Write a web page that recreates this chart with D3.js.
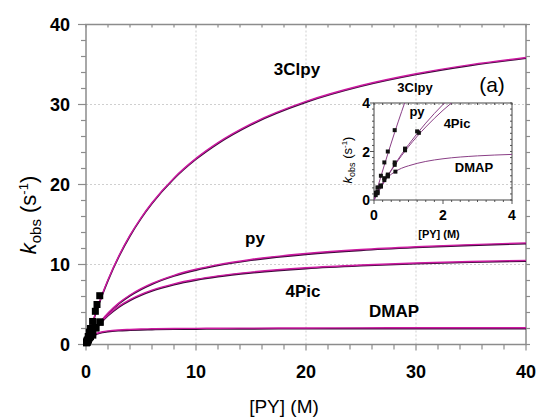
<html>
<script src='https://d3js.org/d3.v7.min.js'></script>
<style>
body { margin: 0; background: #fff; }
text { font-family: Arial, "Liberation Sans", sans-serif; }
</style>
<body>
<svg width=538 height=420></svg>

<script>
// fitted curves
var fitX     = [0, 0.1, 0.2, 0.4, 0.6, 0.8, 1, 1.5, 2, 3, 4, 5, 6, 8, 10, 12, 15, 20, 25, 30, 35, 40];
var fit3Clpy = [0, 0.49, 0.97, 1.90, 2.79, 3.64, 4.46, 6.36, 8.09, 11.11, 13.66, 15.84, 17.72, 20.82, 23.26, 25.23, 27.57, 30.38, 32.37, 33.84, 34.98, 35.88];
var fitPy    = [0, 0.27, 0.52, 1.01, 1.46, 1.89, 2.28, 3.17, 3.94, 5.20, 6.19, 6.98, 7.64, 8.65, 9.40, 9.98, 10.63, 11.37, 11.87, 12.22, 12.49, 12.70];
var fit4Pic  = [0, 0.26, 0.52, 0.99, 1.43, 1.83, 2.20, 3.01, 3.70, 4.79, 5.61, 6.26, 6.79, 7.58, 8.15, 8.58, 9.05, 9.59, 9.94, 10.19, 10.38, 10.52];
var fitDMAP  = [0, 0.35, 0.61, 0.94, 1.16, 1.31, 1.41, 1.59, 1.70, 1.82, 1.88, 1.93, 1.96, 2.00, 2.02, 2.04, 2.05, 2.07, 2.08, 2.09, 2.09, 2.09];

// measured points
var x3Clpy = [0.05, 0.1, 0.2, 0.3, 0.4, 0.6, 0.85, 1.0, 1.25];
var y3Clpy = [0.30, 0.52, 1.0, 1.55, 2.0, 2.88, 4.15, 5.0, 6.1];
var xPy    = [0.1, 0.2, 0.3, 0.4, 0.6, 0.9, 1.25];
var yPy    = [0.30, 0.58, 0.90, 1.05, 1.55, 2.12, 2.83];
var x4Pic  = [0.1, 0.2, 0.3, 0.4, 0.6, 0.9, 1.3];
var y4Pic  = [0.28, 0.55, 0.82, 1.0, 1.45, 2.05, 2.77];
var xDMAP  = [0.05, 0.1, 0.2, 0.4, 0.62];
var yDMAP  = [0.2, 0.35, 0.6, 0.97, 1.17];

var mainTicks  = [0, 10, 20, 30, 40];
var insetTicks = [0, 2, 4];

var fits = [fit3Clpy, fitPy, fit4Pic, fitDMAP];
var pts = [[x3Clpy, y3Clpy], [xPy, yPy], [x4Pic, y4Pic], [xDMAP, yDMAP]];

var svg = d3.select("svg");
var axisCol = "#8c8c8c";

function frame(g, x, y, w, h, col, sw) {
  g.append("rect").attr("x", x).attr("y", y).attr("width", w).attr("height", h)
    .attr("fill", "none").attr("stroke", col).attr("stroke-width", sw);
}

// ---------- main plot ----------
var x = d3.scaleLinear().domain([0, 40]).range([86, 526]);
var y = d3.scaleLinear().domain([0, 40]).range([344.5, 24.5]);

// grid
[10, 20, 30].forEach(function(v) {
  svg.append("line").attr("x1", x(v)).attr("x2", x(v)).attr("y1", y(0)).attr("y2", y(40))
    .attr("stroke", "#cfcfcf").attr("stroke-dasharray", "2,2");
  svg.append("line").attr("x1", x(0)).attr("x2", x(40)).attr("y1", y(v)).attr("y2", y(v))
    .attr("stroke", "#cfcfcf").attr("stroke-dasharray", "2,2");
});

// ticks
var minor = d3.range(0, 40.1, 2);
minor.forEach(function(v) {
  var big = v % 10 == 0;
  var len = big ? 8 : 5;
  // left (outward)
  svg.append("line").attr("x1", x(0) - len).attr("x2", x(0)).attr("y1", y(v)).attr("y2", y(v))
    .attr("stroke", axisCol).attr("stroke-width", 1.2);
  // right (outward)
  svg.append("line").attr("x1", x(40)).attr("x2", x(40) + 4).attr("y1", y(v)).attr("y2", y(v))
    .attr("stroke", axisCol).attr("stroke-width", 1.2);
  // bottom (outward)
  svg.append("line").attr("x1", x(v)).attr("x2", x(v)).attr("y1", y(0)).attr("y2", y(0) + (big ? 6 : 5))
    .attr("stroke", axisCol).attr("stroke-width", 1.2);
  // top (inward)
  svg.append("line").attr("x1", x(v)).attr("x2", x(v)).attr("y1", y(40)).attr("y2", y(40) + 3)
    .attr("stroke", axisCol).attr("stroke-width", 1.2);
});
frame(svg, x(0), y(40), x(40) - x(0), y(0) - y(40), axisCol, 1.5);

// tick labels
mainTicks.forEach(function(v) {
  svg.append("text").attr("x", 70).attr("y", y(v) + 6).attr("text-anchor", "end")
    .style("font-size", "18px").style("font-weight", "bold").text(v);
  svg.append("text").attr("x", x(v)).attr("y", 378).attr("text-anchor", "middle")
    .style("font-size", "18px").style("font-weight", "bold").text(v);
});

// axis titles
svg.append("text").attr("x", 284).attr("y", 413).attr("text-anchor", "middle")
  .style("font-size", "19px").text("[PY] (M)");

var yt = svg.append("text").attr("transform", "translate(36,215) rotate(-90)")
  .attr("text-anchor", "middle").style("font-size", "22px");
yt.append("tspan").style("font-style", "italic").text("k");
yt.append("tspan").attr("dy", 5).style("font-size", "15px").text("obs");
yt.append("tspan").attr("dy", -5).text(" (s");
yt.append("tspan").attr("dy", -8).style("font-size", "13px").text("-1");
yt.append("tspan").attr("dy", 8).text(")");

// curves
var mainLine = d3.line().x(function(d, i) { return x(fitX[i]); }).y(function(d) { return y(d); })
  .curve(d3.curveMonotoneX);
fits.forEach(function(f) {
  svg.append("path").attr("d", mainLine(f)).attr("fill", "none")
    .attr("stroke", "#3b0a3a").attr("stroke-width", 1.6).attr("transform", "translate(0,0.8)");
  svg.append("path").attr("d", mainLine(f)).attr("fill", "none")
    .attr("stroke", "#cc1aa0").attr("stroke-width", 1.4);
});

// squares
pts.forEach(function(p) {
  svg.append("g").selectAll("rect").data(p[0]).enter().append("rect")
    .attr("x", function(d) { return x(d) - 3.5; })
    .attr("y", function(d, i) { return y(p[1][i]) - 3.5; })
    .attr("width", 7).attr("height", 7).attr("fill", "#000");
});

// curve labels
function label(g, tx, ty, s, size, bold) {
  g.append("text").attr("x", tx).attr("y", ty).attr("text-anchor", "middle")
    .style("font-size", size + "px").style("font-weight", bold ? "bold" : "normal").text(s);
}
label(svg, 297, 75, "3Clpy", 17, true);
label(svg, 255, 244, "py", 17, true);
label(svg, 303, 297, "4Pic", 17, true);
label(svg, 394, 317, "DMAP", 17, true);
label(svg, 492, 92, "(a)", 21, false);

// ---------- inset ----------
var ix = d3.scaleLinear().domain([0, 4]).range([374, 512]);
var iy = d3.scaleLinear().domain([0, 4]).range([200, 103]);
var inset = svg.append("g");

svg.append("defs").append("clipPath").attr("id", "iclip").append("rect")
  .attr("x", ix(0)).attr("y", iy(4)).attr("width", ix(4) - ix(0)).attr("height", iy(0) - iy(4));

d3.range(0, 4.01, 0.25).forEach(function(v) {
  var big = v % 2 == 0;
  inset.append("line").attr("x1", ix(0) - (big ? 4 : 2)).attr("x2", ix(0)).attr("y1", iy(v)).attr("y2", iy(v))
    .attr("stroke", "#555");
  inset.append("line").attr("x1", ix(4) - 2).attr("x2", ix(4)).attr("y1", iy(v)).attr("y2", iy(v))
    .attr("stroke", "#555");
  inset.append("line").attr("x1", ix(v)).attr("x2", ix(v)).attr("y1", iy(0)).attr("y2", iy(0) + (big ? 4 : 2))
    .attr("stroke", "#555");
  inset.append("line").attr("x1", ix(v)).attr("x2", ix(v)).attr("y1", iy(4)).attr("y2", iy(4) + 2)
    .attr("stroke", "#555");
});
frame(inset, ix(0), iy(4), ix(4) - ix(0), iy(0) - iy(4), "#444", 1);

insetTicks.forEach(function(v) {
  inset.append("text").attr("x", 370).attr("y", iy(v) + 5).attr("text-anchor", "end")
    .style("font-size", "14px").style("font-weight", "bold").text(v);
  inset.append("text").attr("x", ix(v)).attr("y", 220).attr("text-anchor", "middle")
    .style("font-size", "14px").style("font-weight", "bold").text(v);
});

label(inset, 439, 238, "[PY] (M)", 11, true);
var iyt = inset.append("text").attr("transform", "translate(352,160) rotate(-90)")
  .attr("text-anchor", "middle").style("font-size", "13px");
iyt.append("tspan").style("font-style", "italic").text("k");
iyt.append("tspan").attr("dy", 3).style("font-size", "9px").text("obs");
iyt.append("tspan").attr("dy", -3).text(" (s");
iyt.append("tspan").attr("dy", -5).style("font-size", "8px").text("-1");
iyt.append("tspan").attr("dy", 5).text(")");

var insetLine = d3.line().x(function(d, i) { return ix(fitX[i]); }).y(function(d) { return iy(d); })
  .curve(d3.curveMonotoneX);
var ic = inset.append("g").attr("clip-path", "url(#iclip)");
fits.forEach(function(f) {
  ic.append("path").attr("d", insetLine(f)).attr("fill", "none")
    .attr("stroke", "#8a3f86").attr("stroke-width", 1);
});
pts.forEach(function(p) {
  ic.append("g").selectAll("rect").data(p[0]).enter().append("rect")
    .attr("x", function(d) { return ix(d) - 2; })
    .attr("y", function(d, i) { return iy(p[1][i]) - 2; })
    .attr("width", 4).attr("height", 4).attr("fill", "#111");
});

label(inset, 415, 92, "3Clpy", 13, true);
label(inset, 417, 116, "py", 13, true);
label(inset, 457, 128, "4Pic", 13, true);
label(inset, 474, 172, "DMAP", 13, true);
</script>
</body>
</html>
